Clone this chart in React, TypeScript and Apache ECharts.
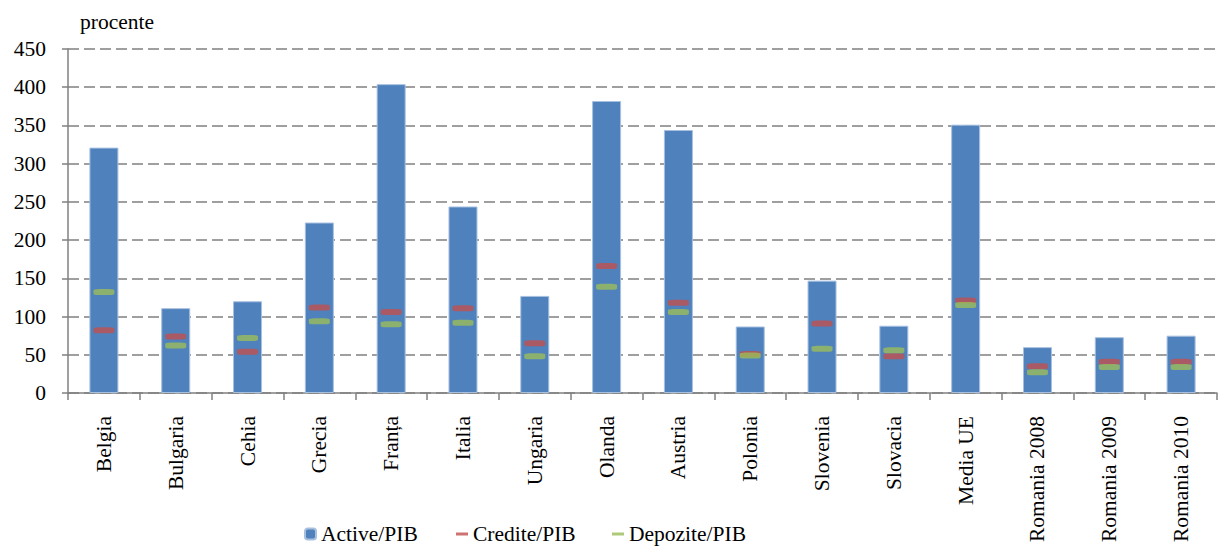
import React, { useEffect, useRef } from "react";
import * as echarts from "echarts";

const categories = [
  "Belgia", "Bulgaria", "Cehia", "Grecia", "Franța", "Italia", "Ungaria", "Olanda",
  "Austria", "Polonia", "Slovenia", "Slovacia", "Media UE", "Romania 2008", "Romania 2009", "Romania 2010",
];
const activePIB = [321, 111, 120, 223, 404, 244, 127, 382, 344, 87, 147, 88, 351, 60, 73, 75];
const creditePIB = [82, 74, 54, 112, 106, 111, 65, 166, 118, 51, 91, 48, 121, 35, 41, 41];
const depozitePIB = [132, 62, 72, 94, 90, 92, 48, 139, 106, 49, 58, 56, 115, 27, 34, 34];
const yTicks = [0, 50, 100, 150, 200, 250, 300, 350, 400, 450];

const FONT = "Times New Roman, Liberation Serif, serif";
const FS = 21.5;

export default function App() {
  const ref = useRef<HTMLDivElement>(null);
  useEffect(() => {
    if (!ref.current) return;
    const chart = echarts.init(ref.current, null, { renderer: "svg" });
    const legendText = { fontFamily: FONT, fontSize: FS, color: "#000" };
    chart.setOption({
      animation: false,
      backgroundColor: "#fff",
      grid: { left: 68, right: 2, top: 49, bottom: 154, containLabel: false },
      graphic: [
        {
          type: "text",
          left: 80,
          top: 11,
          style: { text: "procente", fontFamily: FONT, fontSize: FS, fill: "#000" },
        },
      ],
      legend: [
        {
          data: ["Active/PIB"], left: 304, top: 523, itemWidth: 11, itemHeight: 11, itemGap: 5,
          textStyle: legendText, selectedMode: false, padding: 0,
        },
        {
          data: [{ name: "Credite/PIB", icon: "rect" }], left: 456, top: 523, itemWidth: 12, itemHeight: 3,
          textStyle: legendText, selectedMode: false, padding: 0,
        },
        {
          data: [{ name: "Depozite/PIB", icon: "rect" }], left: 612, top: 523, itemWidth: 12, itemHeight: 3,
          textStyle: legendText, selectedMode: false, padding: 0,
        },
      ],
      xAxis: {
        type: "category",
        data: categories,
        axisLine: { lineStyle: { color: "#808080", width: 1.5 } },
        axisTick: { show: true, length: 7, lineStyle: { color: "#808080", width: 1.5 } },
        axisLabel: { rotate: 90, margin: 23, fontFamily: FONT, fontSize: FS, color: "#000", interval: 0 },
        splitLine: { show: false },
      },
      yAxis: {
        type: "value",
        min: 0,
        max: 450,
        interval: 50,
        axisLine: { show: true, lineStyle: { color: "#808080", width: 1.5 } },
        axisTick: { show: true, length: 6, lineStyle: { color: "#808080", width: 1.5 } },
        axisLabel: { margin: 22, fontFamily: FONT, fontSize: FS, color: "#000",
          formatter: (v: number) => (yTicks.includes(v) ? String(v) : "") },
        splitLine: { show: true, lineStyle: { color: "#808080", width: 1.6, type: [11, 5] } },
      },
      series: [
        {
          name: "Active/PIB",
          type: "bar",
          data: activePIB,
          barWidth: 29,
          itemStyle: { color: "#4F81BD", borderColor: "#A7C0E0", borderWidth: 1 },
          z: 2,
        },
        {
          name: "Credite/PIB",
          type: "scatter",
          data: creditePIB,
          symbol: "roundRect",
          symbolSize: [21, 6],
          itemStyle: { color: "#C0504D" },
          z: 3,
        },
        {
          name: "Depozite/PIB",
          type: "scatter",
          data: depozitePIB,
          symbol: "roundRect",
          symbolSize: [21, 6],
          itemStyle: { color: "#9BBB59" },
          z: 4,
        },
      ],
    });
    return () => chart.dispose();
  }, []);
  return (
    <div
      ref={ref}
      style={{ position: "absolute", left: 0, top: 0, width: 1219, height: 547 }}
    />
  );
}
